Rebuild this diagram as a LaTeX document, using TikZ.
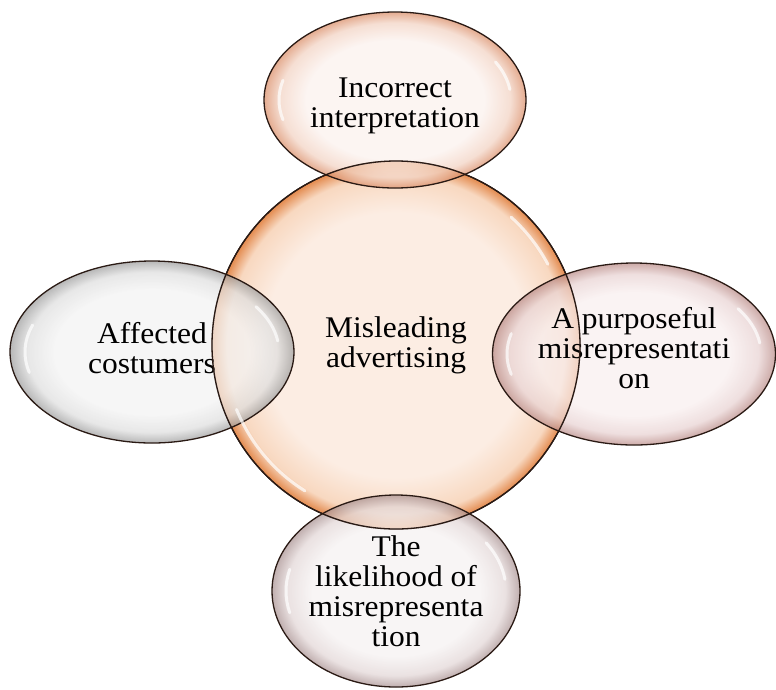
\documentclass[tikz,border=0pt]{standalone}
\usepackage{fontspec}
\setmainfont{Liberation Serif}[FakeStretch=1.05]
\usetikzlibrary{shapes.geometric, positioning}
\usepackage{xcolor}

\definecolor{ctrin}{HTML}{FCEDE3}
\definecolor{ctrmid}{HTML}{F8D8C0}
\definecolor{ctredge}{HTML}{E38A4E}
\definecolor{topin}{HTML}{FBF1ED}
\definecolor{topmid}{HTML}{F2D2C2}
\definecolor{topedge}{HTML}{DA8C66}
\definecolor{greyin}{HTML}{F3F3F3}
\definecolor{greymid}{HTML}{DEDEDE}
\definecolor{greyedge}{HTML}{9C9C9C}
\definecolor{rosein}{HTML}{F8EEEE}
\definecolor{rosemid}{HTML}{E8D2D2}
\definecolor{roseedge}{HTML}{B98A86}
\definecolor{mauvein}{HTML}{F5F1F1}
\definecolor{mauvemid}{HTML}{E2D6D6}
\definecolor{mauveedge}{HTML}{A89090}
\definecolor{rimline}{HTML}{2A1A14}

\pgfdeclareradialshading{ctrbubble}{\pgfpointorigin}{color(0bp)=(ctrin); color(18bp)=(ctrin); color(23bp)=(ctrmid); color(25bp)=(ctredge); color(50bp)=(ctredge)}
\pgfdeclareradialshading{topbubble}{\pgfpointorigin}{color(0bp)=(topin); color(17bp)=(topin); color(22bp)=(topmid); color(25bp)=(topedge); color(50bp)=(topedge)}
\pgfdeclareradialshading{greybubble}{\pgfpointorigin}{color(0bp)=(greyin); color(17bp)=(greyin); color(22bp)=(greymid); color(25bp)=(greyedge); color(50bp)=(greyedge)}
\pgfdeclareradialshading{rosebubble}{\pgfpointorigin}{color(0bp)=(rosein); color(17bp)=(rosein); color(22bp)=(rosemid); color(25bp)=(roseedge); color(50bp)=(roseedge)}
\pgfdeclareradialshading{mauvebubble}{\pgfpointorigin}{color(0bp)=(mauvein); color(17bp)=(mauvein); color(22bp)=(mauvemid); color(25bp)=(mauveedge); color(50bp)=(mauveedge)}

\begin{document}
\begin{tikzpicture}[
    x=1pt, y=-1pt,
    bubble/.style={ellipse, draw=rimline, line width=1.3pt, inner sep=0pt, align=center,
        font=\fontsize{30}{30}\selectfont, fill opacity=0.72, text opacity=1},
    centrebubble/.style={bubble, circle, minimum size=368pt, shading=ctrbubble, fill opacity=1},
    topbox/.style={bubble, minimum width=262pt, minimum height=176pt, shading=topbubble},
    leftbox/.style={bubble, minimum width=284pt, minimum height=182pt, shading=greybubble},
    rightbox/.style={bubble, minimum width=283pt, minimum height=182pt, shading=rosebubble},
    bottombox/.style={bubble, minimum width=248pt, minimum height=192pt, shading=mauvebubble},
    rim/.style={draw=rimline, line width=1.3pt},
    gloss/.style={white, line width=3pt, line cap=round, opacity=0.7}
]
\useasboundingbox (0,0) rectangle (776,689);

% centre
\node[centrebubble] (misleading) at (396,345) {Misleading\\advertising};

% outer ideas
\node[topbox] (incorrect) at (395,100) {\rule{0pt}{32pt}Incorrect\\interpretation};
\node[leftbox] (affected) at (152,352) {Affected\\\rule[-8pt]{0pt}{0pt}costumers};
\node[rightbox] (purposeful) at (634,354) {A purposeful\\misrepresentati\\\rule[-12pt]{0pt}{0pt}on};
\node[bottombox] (likelihood) at (396,591) {The\\likelihood of\\misrepresenta\\tion};

% rim of the centre over the others
\draw[rim] (misleading.center) circle[radius=184pt];

% highlights
\draw[gloss] ([shift={(122:172)}]misleading.center) arc (122:158:172);
\draw[gloss] ([shift={(-28:172)}]misleading.center) arc (-28:-48:172);
\draw[gloss] ([shift={(165:127 and 79)}]affected.center) arc (165:200:127 and 79);
\draw[gloss] ([shift={(-8:127 and 79)}]affected.center) arc (-8:-35:127 and 79);
\draw[gloss] ([shift={(165:116 and 76)}]incorrect.center) arc (165:195:116 and 76);
\draw[gloss] ([shift={(-8:116 and 76)}]incorrect.center) arc (-8:-30:116 and 76);
\draw[gloss] ([shift={(165:127 and 79)}]purposeful.center) arc (165:195:127 and 79);
\draw[gloss] ([shift={(-8:127 and 79)}]purposeful.center) arc (-8:-35:127 and 79);
\draw[gloss] ([shift={(165:110 and 84)}]likelihood.center) arc (165:195:110 and 84);
\draw[gloss] ([shift={(-8:110 and 84)}]likelihood.center) arc (-8:-35:110 and 84);

\end{tikzpicture}
\end{document}
